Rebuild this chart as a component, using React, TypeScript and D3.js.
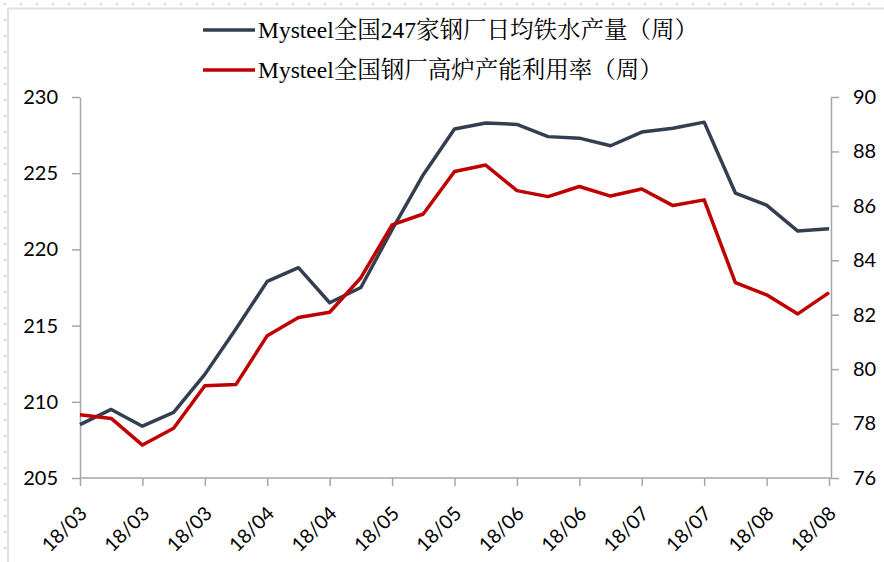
import React, { useEffect, useRef } from 'react';
import * as d3 from 'd3';

// weekly dates (index = week)
const weeks = [
  '18/03/02', '18/03/09', '18/03/16', '18/03/23', '18/03/30', '18/04/06', '18/04/13',
  '18/04/20', '18/04/27', '18/05/04', '18/05/11', '18/05/18', '18/05/25', '18/06/01',
  '18/06/08', '18/06/15', '18/06/22', '18/06/29', '18/07/06', '18/07/13', '18/07/20',
  '18/07/27', '18/08/03', '18/08/10', '18/08/17',
];

const tickLabels = [
  '18/03', '18/03', '18/03', '18/04', '18/04', '18/05', '18/05',
  '18/06', '18/06', '18/07', '18/07', '18/08', '18/08',
];

const hotMetal = [
  208.5, 209.5, 208.4, 209.3, 211.8, 214.8, 217.9, 218.8, 216.5, 217.5, 221.3, 224.9,
  227.9, 228.3, 228.2, 227.4, 227.3, 226.8, 227.7, 227.95, 228.35, 223.7, 222.9, 221.2, 221.35,
];

const utilization = [
  78.32, 78.19, 77.21, 77.83, 79.39, 79.44, 81.23, 81.9, 82.09, 83.36, 85.3, 85.7,
  87.26, 87.5, 86.56, 86.34, 86.71, 86.36, 86.62, 86.01, 86.22, 83.18, 82.73, 82.03, 82.81,
];

const leftTicks = [205, 210, 215, 220, 225, 230];
const rightTicks = [76, 78, 80, 82, 84, 86, 88, 90];

const seriesNames = ['Mysteel全国247家钢厂日均铁水产量（周）', 'Mysteel全国钢厂高炉产能利用率（周）'];
const seriesColors = ['#333f50', '#c00000'];

const App: React.FC = () => {
  const svgRef = useRef<SVGSVGElement>(null);

  useEffect(() => {
    if (!svgRef.current) return;
    const svg = d3.select(svgRef.current);
    svg.selectAll('*').remove();

    const W = 884;
    const H = 562;
    const left = 80;
    const right = 831;
    const top = 97;
    const bottom = 478;
    const axisColor = '#a6a6a6';
    const tickFont = 'Lato, "Open Sans", sans-serif';

    svg.append('rect').attr('width', W).attr('height', H).attr('fill', '#fff');

    // spreadsheet dots + chart frame
    const dots = svg.append('g').attr('fill', '#d0d0d0');
    d3.range(5, W, 16).forEach(x => dots.append('rect').attr('x', x - 1).attr('y', 3).attr('width', 2).attr('height', 2));
    d3.range(20, H, 16).forEach(y => dots.append('rect').attr('x', 4).attr('y', y - 1).attr('width', 2).attr('height', 2));
    svg.append('path')
      .attr('d', `M8,${H} V8.5 H${W}`)
      .attr('fill', 'none')
      .attr('stroke', '#e2e2e2')
      .attr('stroke-width', 2);

    const x = d3.scalePoint<number>()
      .domain(d3.range(weeks.length))
      .range([left, 829]);

    const yL = d3.scaleLinear().domain([205, 230]).range([bottom, top]);
    const yR = d3.scaleLinear().domain([76, 90]).range([bottom, top]);

    // left axis
    const gL = svg.append('g')
      .attr('transform', `translate(${left},0)`)
      .call(d3.axisLeft(yL).tickValues(leftTicks).tickSize(8).tickPadding(14).tickSizeOuter(0));
    gL.select('.domain').attr('stroke', axisColor).attr('stroke-width', 1.5);
    gL.selectAll('.tick line').attr('stroke', axisColor).attr('stroke-width', 1.5);
    gL.selectAll('.tick text')
      .attr('fill', '#000')
      .style('font-family', tickFont)
      .style('font-size', '20px');

    // right axis
    const gR = svg.append('g')
      .attr('transform', `translate(${right},0)`)
      .call(d3.axisRight(yR).tickValues(rightTicks).tickSize(8).tickPadding(14).tickSizeOuter(0));
    gR.select('.domain').attr('stroke', axisColor).attr('stroke-width', 1.5);
    gR.selectAll('.tick line').attr('stroke', axisColor).attr('stroke-width', 1.5);
    gR.selectAll('.tick text')
      .attr('fill', '#000')
      .style('font-family', tickFont)
      .style('font-size', '20px');

    // bottom axis
    const labelIdx = d3.range(0, weeks.length, 2);
    const gB = svg.append('g')
      .attr('transform', `translate(0,${bottom})`)
      .call(
        d3.axisBottom(x)
          .tickValues(labelIdx)
          .tickSize(8)
          .tickSizeOuter(0)
          .tickFormat((_, i) => tickLabels[i])
      );
    gB.select('.domain').attr('stroke', axisColor).attr('stroke-width', 1.5).attr('d', `M${left},0H${right}`);
    gB.selectAll('.tick line').attr('stroke', axisColor).attr('stroke-width', 1.5);
    gB.selectAll('.tick text')
      .attr('fill', '#000')
      .attr('text-anchor', 'end')
      .attr('transform', 'translate(3,32) rotate(-45)')
      .attr('dy', '0.35em')
      .attr('y', 0)
      .style('font-family', tickFont)
      .style('font-size', '19.5px');

    // lines
    const lineL = d3.line<number>().x((_, i) => x(i)!).y(d => yL(d));
    const lineR = d3.line<number>().x((_, i) => x(i)!).y(d => yR(d));

    svg.append('path')
      .datum(hotMetal)
      .attr('d', lineL)
      .attr('fill', 'none')
      .attr('stroke', seriesColors[0])
      .attr('stroke-width', 3.5)
      .attr('stroke-linejoin', 'round');

    svg.append('path')
      .datum(utilization)
      .attr('d', lineR)
      .attr('fill', 'none')
      .attr('stroke', seriesColors[1])
      .attr('stroke-width', 3.5)
      .attr('stroke-linejoin', 'round');

    // legend
    seriesNames.forEach((name, i) => {
      const ly = 30 + i * 40;
      svg.append('line')
        .attr('x1', 203).attr('x2', 255)
        .attr('y1', ly).attr('y2', ly)
        .attr('stroke', seriesColors[i])
        .attr('stroke-width', 3.5);
      svg.append('text')
        .attr('x', 258)
        .attr('y', ly + 8)
        .style('font-family', '"Liberation Serif", "Noto Serif CJK SC", "Noto Sans CJK SC", serif')
        .style('font-size', '23.5px')
        .attr('fill', '#000')
        .text(name);
    });
  }, []);

  return (
    <svg
      ref={svgRef}
      width={884}
      height={562}
      style={{ position: 'absolute', left: 0, top: 0 }}
    />
  );
};

export default App;
